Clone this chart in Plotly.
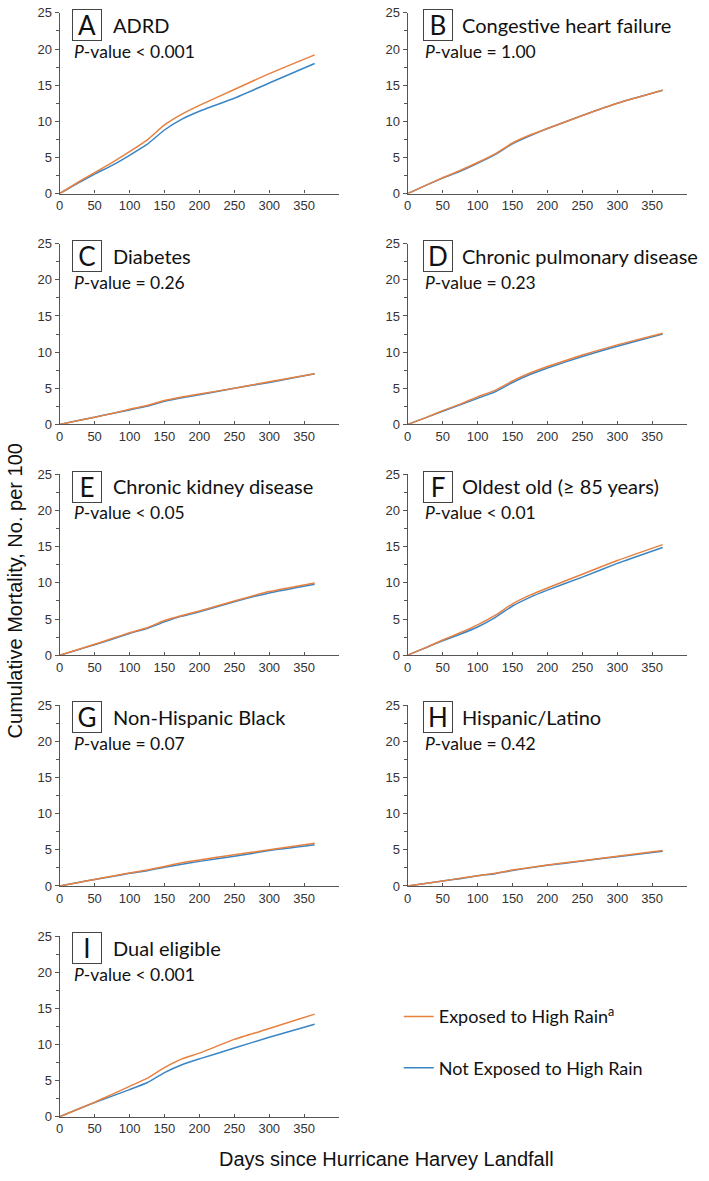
import plotly.graph_objects as go

W, H = 709, 1181

days = [0, 25, 50, 75, 100, 125, 150, 175, 200, 250, 300, 365]

panel_letters = ["A", "B", "C", "D", "E", "F", "G", "H", "I"]
panel_titles = ["ADRD", "Congestive heart failure", "Diabetes", "Chronic pulmonary disease",
                "Chronic kidney disease", "Oldest old (\u2265 85 years)", "Non-Hispanic Black",
                "Hispanic/Latino", "Dual eligible"]
panel_pvalues = ["< 0.001", "= 1.00", "= 0.26", "= 0.23", "< 0.05", "< 0.01", "= 0.07", "= 0.42", "< 0.001"]

exposed_A = [0, 1.5, 2.9, 4.3, 5.8, 7.4, 9.5, 11.0, 12.2, 14.4, 16.6, 19.2]
notexp_A = [0, 1.4, 2.7, 3.9, 5.3, 6.8, 8.8, 10.3, 11.4, 13.2, 15.3, 18.0]
exposed_B = [0, 1.1, 2.2, 3.2, 4.3, 5.5, 7.0, 8.1, 9.0, 10.8, 12.5, 14.3]
notexp_B = [0, 1.1, 2.15, 3.1, 4.2, 5.4, 6.9, 8.0, 9.0, 10.8, 12.5, 14.3]
exposed_C = [0, 0.5, 1.0, 1.5, 2.1, 2.6, 3.3, 3.8, 4.2, 5.0, 5.9, 7.0]
notexp_C = [0, 0.5, 1.0, 1.5, 2.0, 2.5, 3.2, 3.7, 4.1, 5.0, 5.8, 7.0]
exposed_D = [0, 0.9, 1.9, 2.8, 3.8, 4.7, 6.0, 7.1, 8.0, 9.6, 11.0, 12.6]
notexp_D = [0, 0.9, 1.8, 2.7, 3.6, 4.5, 5.8, 6.9, 7.8, 9.4, 10.8, 12.5]
exposed_E = [0, 0.75, 1.5, 2.3, 3.1, 3.8, 4.8, 5.5, 6.1, 7.5, 8.8, 10.0]
notexp_E = [0, 0.7, 1.45, 2.2, 3.0, 3.7, 4.6, 5.4, 6.0, 7.4, 8.6, 9.8]
exposed_F = [0, 1.0, 2.1, 3.1, 4.2, 5.5, 7.1, 8.3, 9.3, 11.2, 13.1, 15.3]
notexp_F = [0, 1.0, 2.0, 2.9, 3.9, 5.2, 6.8, 8.0, 9.0, 10.8, 12.7, 14.9]
exposed_G = [0, 0.45, 0.9, 1.35, 1.8, 2.2, 2.7, 3.2, 3.6, 4.3, 5.0, 5.9]
notexp_G = [0, 0.45, 0.9, 1.3, 1.75, 2.1, 2.6, 3.0, 3.4, 4.1, 4.9, 5.7]
exposed_H = [0, 0.35, 0.7, 1.05, 1.4, 1.75, 2.2, 2.55, 2.9, 3.5, 4.1, 4.9]
notexp_H = [0, 0.35, 0.7, 1.0, 1.4, 1.7, 2.15, 2.5, 2.85, 3.45, 4.05, 4.8]
exposed_I = [0, 1.0, 2.0, 3.1, 4.2, 5.3, 6.8, 8.0, 8.8, 10.7, 12.2, 14.2]
notexp_I = [0, 1.0, 1.95, 2.85, 3.75, 4.7, 6.1, 7.2, 8.0, 9.5, 11.0, 12.8]

exposed = [exposed_A, exposed_B, exposed_C, exposed_D, exposed_E, exposed_F, exposed_G, exposed_H, exposed_I]
notexp = [notexp_A, notexp_B, notexp_C, notexp_D, notexp_E, notexp_F, notexp_G, notexp_H, notexp_I]

x_ticks = [0, 50, 100, 150, 200, 250, 300, 350]
y_ticks = [0, 5, 10, 15, 20, 25]

ORANGE = "#E8803F"
BLUE = "#3A85C5"
AXC = "#555555"
TITLE_FONT = "Lato"
TICK_FONT = "Liberation Sans, Arial"

col_left = [56, 406]
col_right = [337, 687]
row_top0, row_bot0, pitch = 6, 189, 233.75


def px(x):
    return x / W


def py(y):
    return 1 - y / H


fig = go.Figure()
annotations = []

for i in range(9):
    r, c = divmod(i, 2)
    n = i + 1
    xa = "x" if n == 1 else f"x{n}"
    ya = "y" if n == 1 else f"y{n}"
    top = row_top0 + r * pitch
    bot = row_bot0 + r * pitch
    left, right = col_left[c], col_right[c]

    fig.add_trace(go.Scatter(x=days, y=notexp[i], mode="lines", xaxis=xa, yaxis=ya,
                             line=dict(color=BLUE, width=1.5, shape="spline", smoothing=0.4),
                             name="Not Exposed to High Rain", legendgroup="b",
                             legendrank=2, showlegend=(i == 0)))
    fig.add_trace(go.Scatter(x=days, y=exposed[i], mode="lines", xaxis=xa, yaxis=ya,
                             line=dict(color=ORANGE, width=1.5, shape="spline", smoothing=0.4),
                             name="Exposed to High Rain<sup>a</sup>", legendgroup="a",
                             legendrank=1, showlegend=(i == 0)))

    xkey = "xaxis" if n == 1 else f"xaxis{n}"
    ykey = "yaxis" if n == 1 else f"yaxis{n}"
    fig.layout[xkey] = dict(domain=[px(left), px(right)], anchor=ya, range=[0, 400],
                            tickvals=x_ticks, ticktext=[str(v) for v in x_ticks],
                            showline=True, linecolor=AXC, linewidth=1.3, showgrid=False,
                            zeroline=False, ticks="inside", ticklen=3, tickcolor=AXC,
                            tickfont=dict(family=TICK_FONT, size=13, color="#333333"),
                            fixedrange=True)
    fig.layout[ykey] = dict(domain=[py(bot), py(top)], anchor=xa, range=[0, 25],
                            tickvals=y_ticks, ticktext=[str(v) for v in y_ticks],
                            showline=True, linecolor=AXC, linewidth=1.3, showgrid=False,
                            zeroline=False, ticks="outside", ticklen=4, tickcolor=AXC,
                            minor=dict(ticks="outside", ticklen=3, dtick=2.5, tickcolor=AXC, showgrid=False),
                            tickfont=dict(family=TICK_FONT, size=13, color="#333333"),
                            fixedrange=True)

    box_left = 68 if c == 0 else 421
    annotations.append(dict(xref="paper", yref="paper", x=px(box_left), y=py(top - 4),
                            xanchor="left", yanchor="top", text=panel_letters[i],
                            showarrow=False, width=26, height=28, borderpad=1,
                            bordercolor="#444444", borderwidth=1, align="center",
                            font=dict(family=TITLE_FONT, size=26, color="#111111")))
    annotations.append(dict(xref="paper", yref="paper", x=px(box_left + (40 if c == 0 else 38)),
                            y=py(top + 12), xanchor="left", yanchor="middle",
                            text=panel_titles[i], showarrow=False,
                            font=dict(family=TITLE_FONT, size=20, color="#111111")))
    annotations.append(dict(xref="paper", yref="paper", x=px(box_left), y=py(top + 39),
                            xanchor="left", yanchor="middle",
                            text="<i>P</i>-value " + panel_pvalues[i], showarrow=False,
                            font=dict(family=TITLE_FONT, size=17.5, color="#111111")))

annotations.append(dict(xref="paper", yref="paper", x=px(12), y=py(591), xanchor="center",
                        yanchor="middle", textangle=-90, showarrow=False,
                        text="Cumulative Mortality, No. per 100",
                        font=dict(family="Liberation Sans, Arial", size=20, color="#111111")))
annotations.append(dict(xref="paper", yref="paper", x=px(385), y=py(1167), xanchor="center",
                        yanchor="middle", showarrow=False,
                        text="Days since Hurricane Harvey Landfall",
                        font=dict(family="Liberation Sans, Arial", size=20, color="#111111")))

fig.update_layout(
    width=W, height=H, margin=dict(l=0, r=0, t=0, b=0),
    paper_bgcolor="white", plot_bgcolor="white",
    annotations=annotations,
    showlegend=True,
    legend=dict(x=px(397), y=py(1004), xanchor="left", yanchor="top",
                font=dict(family=TITLE_FONT, size=18, color="#111111"),
                tracegroupgap=25, bgcolor="rgba(0,0,0,0)", borderwidth=0,
                traceorder="grouped"),
)

fig.write_html("out.html")
